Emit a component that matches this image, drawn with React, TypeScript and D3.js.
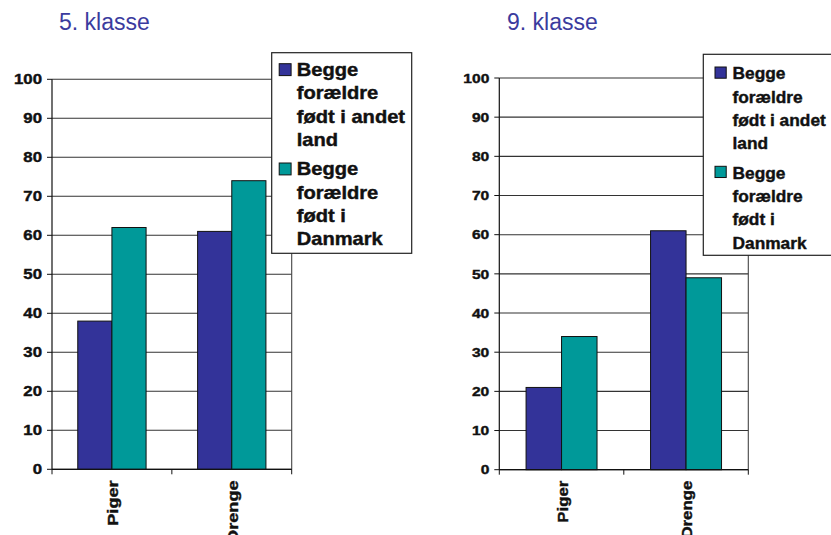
import * as d3 from 'd3';

const categories = ['Piger', 'Drenge'];
const seriesKeys = ['abroad', 'denmark'];
const seriesColors = ['#333399', '#009999'];
const legendLines = [
  ['Begge', 'forældre', 'født i andet', 'land'],
  ['Begge', 'forældre', 'født i', 'Danmark'],
];
const grade5Abroad = [38, 61];
const grade5Denmark = [62, 74];
const grade9Abroad = [21, 61];
const grade9Denmark = [34, 49];
const yTicks = [0, 10, 20, 30, 40, 50, 60, 70, 80, 90, 100];

const FONT = "'Liberation Sans', Arial, sans-serif";

interface PanelProps {
  title: string;
  titleX: number;
  values: number[][];
  x0: number;
  x1: number;
  yTop: number;
  yBottom: number;
  tickSize: number;
  tickScale: number;
  labelScale: number;
  legend: { x0: number; x1: number; y0: number; y1: number; text: number; fontSize: number; sx: number; base: number };
}

function Panel({ title, titleX, values, x0, x1, yTop, yBottom, tickSize, tickScale, labelScale, legend }: PanelProps) {
  const x = d3.scaleBand<string>().domain(categories).range([x0, x1]);
  const y = d3.scaleLinear().domain([0, 100]).range([yBottom, yTop]);
  const groupW = x.bandwidth() * 0.57;
  const inner = d3.scaleBand<string>().domain(seriesKeys).range([0, groupW]);

  return (
    <g>
      <text x={titleX} y={30} fontFamily={FONT} fontSize={23} fill="#3b3b9e">
        {title}
      </text>

      {/* gridlines */}
      {yTicks.map(t => (
        <line key={t} x1={x0} x2={x1} y1={y(t)} y2={y(t)} stroke="#333" strokeWidth={1.1} />
      ))}

      {/* bars */}
      {categories.map((c, ci) => {
        const gx = (x(c) ?? 0) + (x.bandwidth() - groupW) / 2;
        return seriesKeys.map((k, si) => (
          <rect key={c + k} x={gx + (inner(k) ?? 0)} y={y(values[si][ci])}
            width={inner.bandwidth()} height={y(0) - y(values[si][ci])}
            fill={seriesColors[si]} stroke="#111" strokeWidth={1} />
        ));
      })}

      {/* axes */}
      <line x1={x0} x2={x0} y1={yTop} y2={yBottom} stroke="#111" strokeWidth={1.2} />
      <line x1={x1} x2={x1} y1={yTop} y2={yBottom} stroke="#444" strokeWidth={1.1} />
      <line x1={x0} x2={x1} y1={yBottom} y2={yBottom} stroke="#111" strokeWidth={1.2} />
      {yTicks.map(t => (
        <g key={'t' + t}>
          <line x1={x0 - 5} x2={x0} y1={y(t)} y2={y(t)} stroke="#111" />
          <text transform={`translate(${x0 - 10},${y(t) + tickSize * 0.36}) scale(${tickScale},1)`}
            textAnchor="end" fontFamily={FONT} fontWeight="bold"
            fontSize={tickSize} fill="#111" stroke="#111" strokeWidth={0.4}>{t}</text>
        </g>
      ))}
      {[x0, x0 + x.bandwidth(), x1].map((bx, i) => (
        <line key={'b' + i} x1={bx} x2={bx} y1={yBottom} y2={yBottom + 5} stroke="#111" />
      ))}
      {categories.map(c => {
        const cx = (x(c) ?? 0) + x.bandwidth() / 2 + 1;
        return (
          <text key={'l' + c} transform={`translate(${cx + 5},${yBottom + 11}) rotate(-90) scale(${labelScale},1)`}
            textAnchor="end" fontFamily={FONT} fontWeight="bold"
            fontSize={14} fill="#111" stroke="#111" strokeWidth={0.4}>{c}</text>
        );
      })}

      {/* legend */}
      <rect x={legend.x0} y={legend.y0} width={legend.x1 - legend.x0} height={legend.y1 - legend.y0}
        fill="#fff" stroke="#222" strokeWidth={1.2} />
      {legendLines.map((lines, si) => {
        const b = legend.base + si * 99.3;
        return (
          <g key={'lg' + si}>
            <rect x={legend.text - 17.5} y={b - 12.3} width={legend.fontSize * 0.68} height={legend.fontSize * 0.68}
              fill={seriesColors[si]} stroke="#111" strokeWidth={1} />
            {lines.map((ln, li) => (
              <text key={li} transform={`translate(${legend.text},${b + li * 23.3}) scale(${legend.sx},1)`}
                fontFamily={FONT} fontWeight="bold"
                fontSize={legend.fontSize} fill="#111" stroke="#111" strokeWidth={0.4}>{ln}</text>
            ))}
          </g>
        );
      })}
    </g>
  );
}

export default function App() {
  return (
    <svg width={831} height={535} style={{ position: 'absolute', left: 0, top: 0, background: '#fff' }}>
      <Panel title="5. klasse" titleX={59} values={[grade5Abroad, grade5Denmark]}
        x0={52} x1={291.7} yTop={79.3} yBottom={469.3} tickSize={14} tickScale={1.2} labelScale={1.3}
        legend={{ x0: 271.7, x1: 411.7, y0: 52.7, y1: 253.3, text: 296.7, fontSize: 17.5, sx: 1.15, base: 76 }} />
      <Panel title="9. klasse" titleX={507} values={[grade9Abroad, grade9Denmark]}
        x0={499.3} x1={748.3} yTop={78} yBottom={469.7} tickSize={13} tickScale={1.2} labelScale={1.2}
        legend={{ x0: 703.3, x1: 840, y0: 54.3, y1: 255.3, text: 732.5, fontSize: 16.5, sx: 1.05, base: 79.3 }} />
    </svg>
  );
}
